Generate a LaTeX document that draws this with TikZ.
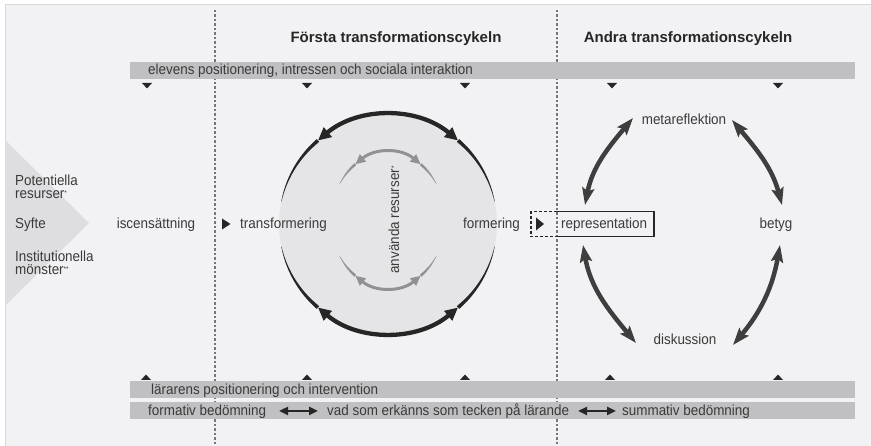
\documentclass[tikz,border=0pt]{standalone}
\usepackage{fontspec}
\setmainfont[FakeStretch=0.92]{Liberation Sans}
\newfontfamily\titlefont{Liberation Sans}
\usetikzlibrary{arrows.meta}
\definecolor{bg}{RGB}{242,242,244}
\definecolor{barc}{RGB}{192,192,194}
\definecolor{chev}{RGB}{222,222,224}
\definecolor{circc}{RGB}{229,229,231}
\definecolor{txt}{RGB}{58,58,58}
\definecolor{dk}{RGB}{38,38,38}
\definecolor{cycc}{RGB}{62,62,62}
\definecolor{innerc}{RGB}{145,145,147}
\definecolor{dashc}{RGB}{118,118,118}
\newcommand\mytaper[6]{%
  \fill[#6] plot[domain=#1:#2,samples=25] ({(#3+0.5*(0.3+(#5)*(#2-\x)/(#2-#1)))*cos(\x)},{(#4+0.5*(0.3+(#5)*(#2-\x)/(#2-#1)))*sin(\x)})
  -- plot[domain=#2:#1,samples=25] ({(#3-0.5*(0.3+(#5)*(#2-\x)/(#2-#1)))*cos(\x)},{(#4-0.5*(0.3+(#5)*(#2-\x)/(#2-#1)))*sin(\x)}) -- cycle;}
\newcommand\myast[1]{\raisebox{3pt}{\fontsize{7}{7}\selectfont #1}}
\begin{document}
\begin{tikzpicture}[x=1pt,y=1pt,
  lbl/.style={text=txt, font=\fontsize{14.6}{14.6}\selectfont, inner sep=0pt},
  ttl/.style={text=dk, font=\titlefont\bfseries\fontsize{15}{15}\selectfont, inner sep=0pt},
  barbox/.style={fill=barc, draw=none},
  vline/.style={draw=dashc, line width=1.3pt, dash pattern=on 2.5pt off 2pt},
  blk/.style={draw=dk, line width=4.3pt, {Triangle[length=13pt,width=12pt]}-{Triangle[length=13pt,width=12pt]}},
  gry/.style={draw=innerc, line width=3pt, {Triangle[length=10pt,width=9pt]}-{Triangle[length=10pt,width=9pt]}},
  cyca/.style={draw=cycc, line width=4.5pt, {Stealth[length=17pt,width=12pt,inset=3pt]}-{Stealth[length=17pt,width=12pt,inset=3pt]}},
  dbl/.style={draw=dk, line width=2.4pt, {Triangle[length=9pt,width=8pt]}-{Triangle[length=9pt,width=8pt]}}]
\useasboundingbox (0,0) rectangle (871,446);
% background
\fill[white] (0,0) rectangle (871,446);
\fill[bg] (5,0) rectangle (871,442);
\draw[gray!30, line width=0.6pt] (5,0) -- (5,442) -- (871,442);
% left chevron
\fill[chev] (5,306) -- (89,223) -- (5,140) -- cycle;
% dashed separators
\draw[vline] (215,436) -- (215,0);
\draw[vline] (557,436) -- (557,0);
% titles
\node[ttl, anchor=base] (t1) at (396,403) {Första transformationscykeln};
\node[ttl, anchor=base] (t2) at (688,403) {Andra transformationscykeln};
% bars
\fill[barbox] (130,367) rectangle (855,384);
\fill[barbox] (130,48) rectangle (855,65);
\fill[barbox] (130,27) rectangle (855,44);
\node[lbl, anchor=base west] (elev) at (148,371) {elevens positionering, intressen och sociala interaktion};
\node[lbl, anchor=base west] (lar) at (151,51) {lärarens positionering och intervention};
\node[lbl, anchor=base west] (fb) at (148,30.5) {formativ bedömning};
\node[lbl, anchor=base west] (vad) at (327,30.5) {vad som erkänns som tecken på lärande};
\node[lbl, anchor=base west] (sb) at (622,30.5) {summativ bedömning};
\coordinate (d1a) at (279,35); \coordinate (d1b) at (318,35);
\coordinate (d2a) at (578,35); \coordinate (d2b) at (616,35);
\draw[dbl] (d1a) -- (d1b);
\draw[dbl] (d2a) -- (d2b);
% small triangles
\foreach \p in {147,307,465,612,778} \fill[dk] (\p-5,363) -- (\p+5,363) -- (\p,357.5) -- cycle;
\foreach \p in {146,307,465,610,778} \fill[dk] (\p-5,66) -- (\p+5,66) -- (\p,71.5) -- cycle;
% left labels
\node[lbl, anchor=base west] (pot) at (15,260.5) {Potentiella};
\node[lbl, anchor=base west] (res) at (15,247.5) {resurser\myast{*}};
\node[lbl, anchor=base west] (syf) at (15,217) {Syfte};
\node[lbl, anchor=base west] (inst) at (15,184) {Institutionella};
\node[lbl, anchor=base west] (mon) at (15,171) {mönster\myast{**}};
\node[lbl, anchor=base] (isc) at (156,217) {iscensättning};
\fill[dk] (222,227.5) -- (230.5,222) -- (222,216.5) -- cycle;
% first cycle circle
\node[circle, fill=circc, minimum size=218pt, inner sep=0pt] (circ) at (388,222) {};
\begin{scope}[shift={(388,222)}]
  \draw[blk] (130:109) arc[start angle=130,end angle=50,radius=109];
  \mytaper{130}{168}{109}{109}{3.4}{dk}
  \mytaper{50}{12}{109}{109}{3.4}{dk}
  \draw[blk] (230:109) arc[start angle=230,end angle=310,radius=109];
  \mytaper{230}{192}{109}{109}{3.4}{dk}
  \mytaper{310}{348}{109}{109}{3.4}{dk}
\end{scope}
\begin{scope}[shift={(388,226)}]
  \draw[gry] (125:57 and 68) arc[start angle=125,end angle=55,x radius=57,y radius=68];
  \mytaper{125}{148}{57}{68}{2.5}{innerc}
  \mytaper{55}{32}{57}{68}{2.5}{innerc}
  \draw[gry] (235:57 and 68) arc[start angle=235,end angle=305,x radius=57,y radius=68];
  \mytaper{235}{212}{57}{68}{2.5}{innerc}
  \mytaper{305}{328}{57}{68}{2.5}{innerc}
\end{scope}
\node[lbl, rotate=90] (anv) at (394,226) {använda resurser\myast{*}};
\node[lbl, anchor=base west] (trans) at (240,217) {transformering};
\node[lbl, anchor=base west] (form) at (463,217) {formering};
% dashed box and representation box
\draw[dk, line width=1.2pt, dash pattern=on 3pt off 2pt] (557,234.3) -- (531,234.3) -- (531,209.5) -- (557,209.5);
\fill[dk] (536,228.5) -- (544,222) -- (536,215.5) -- cycle;
\draw[dk, line width=1.3pt] (557,234.3) -- (654,234.3) -- (654,209.5) -- (557,209.5);
\node[lbl, anchor=base west] (repr) at (561,217) {representation};
% second cycle
\node[lbl, anchor=base] (meta) at (684,321) {metareflektion};
\node[lbl, anchor=base] (bet) at (776,217) {betyg};
\node[lbl, anchor=base] (disk) at (685,101) {diskussion};
\coordinate (ulA) at (633,328); \coordinate (ulB) at (585,241);
\coordinate (urA) at (732,326); \coordinate (urB) at (782,241);
\coordinate (llA) at (583,201); \coordinate (llB) at (636,103);
\coordinate (lrA) at (780,201); \coordinate (lrB) at (733,101);
\draw[cyca] (ulA) to[out=230,in=79] (ulB);
\draw[cyca] (urA) to[out=-50,in=105] (urB);
\draw[cyca] (llA) to[out=-80,in=130] (llB);
\draw[cyca] (lrA) to[out=-100,in=50] (lrB);
\end{tikzpicture}
\end{document}
